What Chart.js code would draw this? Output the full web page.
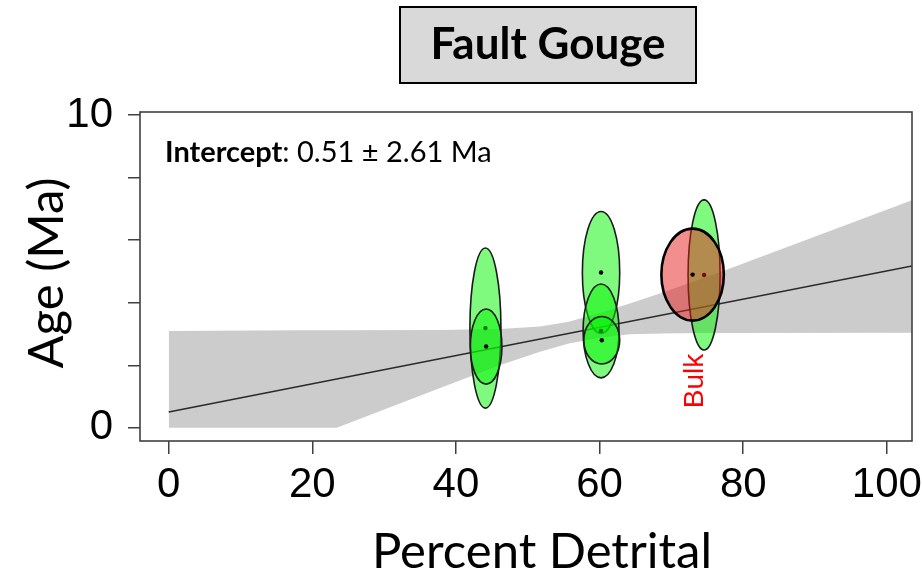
<!DOCTYPE html>
<html>
<head>
<meta charset="utf-8">
<script src="https://cdn.jsdelivr.net/npm/chart.js@4.4.1/dist/chart.umd.min.js"></script>
<style>
  html, body { margin: 0; padding: 0; background: #ffffff; }
  #wrap { width: 922px; height: 577px; }
</style>
</head>
<body>
<div id="wrap"><canvas id="c" width="922" height="577"></canvas></div>
<script>
// Axis extents and tick values
const xRange = [-4, 103.5];
const yRange = [-0.42, 10.1];
const xTickValues = [0, 20, 40, 60, 80, 100];
const yTickValues = [0, 2, 4, 6, 8, 10];
const yTickLabelled = [0, 10];

// Regression fit
const intercept = 0.51;
const interceptErr = 2.61;
const slope = 0.0451;

// Confidence envelope of the fit
const bandX     = [0,    18.2, 23.4, 37.7, 46.1, 51.7, 55.7, 60.0, 64.2, 68.8, 74.0, 77.4, 103.5];
const bandUpper = [3.10, 3.12, 3.12, 3.13, 3.16, 3.24, 3.39, 3.67, 3.98, 4.33, 4.75, 5.03, 7.28];
const bandLower = [0,    0,    0,    1.27, 2.00, 2.43, 2.70, 2.88, 2.99, 3.02, 3.03, 3.03, 3.04];

// Sample ages (Ma) with uncertainty ellipses: percent detrital vs age
const sampleDetrital = [44.1, 44.2, 60.2, 60.2, 60.3, 74.55, 72.95];
const sampleAge      = [3.19, 2.60, 4.97, 3.10, 2.80, 4.89, 4.90];
const sampleErrX     = [2.16, 2.20, 2.60, 2.50, 2.50, 2.23, 4.35];
const sampleErrY     = [2.56, 1.20, 1.95, 1.50, 0.76, 2.40, 1.47];
const sampleType     = ['fraction', 'fraction', 'fraction', 'fraction', 'fraction', 'fraction', 'bulk'];
const bulkLabel = 'Bulk';
const bulkLabelAge = 1.5;

const styles = {
  fraction: { fill: 'rgba(0,245,0,0.5)', stroke: '#1a1a1a', width: 1.6, dot: '#000000' },
  bulk:     { fill: 'rgba(232,30,30,0.5)', stroke: '#000000', width: 2.6, dot: '#000000' }
};

const fitLine = [
  { x: 0, y: intercept },
  { x: xRange[1], y: intercept + slope * xRange[1] }
];

const ellipsePlugin = {
  id: 'ellipses',
  afterDatasetsDraw(chart) {
    const { ctx, chartArea, scales } = chart;
    const xs = scales.x, ys = scales.y;
    ctx.save();
    ctx.beginPath();
    ctx.rect(chartArea.left, chartArea.top, chartArea.right - chartArea.left, chartArea.bottom - chartArea.top);
    ctx.clip();
    for (let i = 0; i < sampleAge.length; i++) {
      const st = styles[sampleType[i]];
      const cx = xs.getPixelForValue(sampleDetrital[i]);
      const cy = ys.getPixelForValue(sampleAge[i]);
      const rx = Math.abs(xs.getPixelForValue(sampleDetrital[i] + sampleErrX[i]) - cx);
      const ry = Math.abs(ys.getPixelForValue(sampleAge[i] + sampleErrY[i]) - cy);
      ctx.beginPath();
      ctx.ellipse(cx, cy, rx, ry, 0, 0, Math.PI * 2);
      ctx.fillStyle = st.fill;
      ctx.fill();
      ctx.lineWidth = st.width;
      ctx.strokeStyle = st.stroke;
      ctx.stroke();
      ctx.beginPath();
      ctx.arc(cx, cy, 2.2, 0, Math.PI * 2);
      ctx.fillStyle = st.dot;
      ctx.fill();
    }
    ctx.restore();

    // label under the bulk sample, reading upward
    const b = sampleType.indexOf('bulk');
    const bx = xs.getPixelForValue(sampleDetrital[b]) + 10;
    const by = ys.getPixelForValue(bulkLabelAge);
    ctx.save();
    ctx.translate(bx, by);
    ctx.rotate(-Math.PI / 2);
    ctx.font = '28px "Liberation Sans", Arial, sans-serif';
    ctx.fillStyle = '#ff0000';
    ctx.textAlign = 'center';
    ctx.textBaseline = 'alphabetic';
    ctx.fillText(bulkLabel, 0, 0);
    ctx.restore();
  }
};

const framePlugin = {
  id: 'frame',
  afterDraw(chart) {
    const { ctx, chartArea } = chart;
    ctx.save();
    // plot box
    ctx.strokeStyle = '#404040';
    ctx.lineWidth = 1.6;
    ctx.strokeRect(chartArea.left, chartArea.top, chartArea.right - chartArea.left, chartArea.bottom - chartArea.top);

    // title box
    ctx.fillStyle = '#d9d9d9';
    ctx.fillRect(400, 7, 296, 76);
    ctx.strokeStyle = '#000000';
    ctx.lineWidth = 2;
    ctx.strokeRect(400, 7, 296, 76);
    ctx.fillStyle = '#000000';
    ctx.font = 'bold 44px Lato, "Open Sans", sans-serif';
    ctx.textAlign = 'center';
    ctx.textBaseline = 'alphabetic';
    ctx.fillText('Fault Gouge', 548, 59);

    // intercept annotation
    ctx.textAlign = 'left';
    ctx.font = 'bold 29px Lato, sans-serif';
    const lead = 'Intercept';
    ctx.fillText(lead, 165, 162);
    const w = ctx.measureText(lead).width;
    ctx.font = '29px Lato, sans-serif';
    ctx.fillText(': ' + intercept.toFixed(2) + ' \u00b1 ' + interceptErr.toFixed(2) + ' Ma', 165 + w, 162);

    // axis titles
    ctx.font = '49px Lato, sans-serif';
    ctx.textAlign = 'center';
    ctx.fillText('Percent Detrital', 542, 568);
    ctx.save();
    ctx.translate(63, 273);
    ctx.rotate(-Math.PI / 2);
    ctx.fillText('Age (Ma)', 0, 0);
    ctx.restore();
    ctx.restore();
  }
};

new Chart(document.getElementById('c'), {
  type: 'scatter',
  data: {
    datasets: [
      {
        label: 'fit',
        data: fitLine,
        showLine: true,
        borderColor: '#2a2a2a',
        borderWidth: 1.5,
        pointRadius: 0,
        fill: false,
        order: 0
      },
      {
        label: 'upper',
        data: bandX.map((x, i) => ({ x, y: bandUpper[i] })),
        showLine: true,
        borderWidth: 0,
        borderColor: 'rgba(0,0,0,0)',
        backgroundColor: '#cccccc',
        pointRadius: 0,
        fill: '+1',
        tension: 0,
        order: 1
      },
      {
        label: 'lower',
        data: bandX.map((x, i) => ({ x, y: bandLower[i] })),
        showLine: true,
        borderWidth: 0,
        borderColor: 'rgba(0,0,0,0)',
        backgroundColor: '#cccccc',
        pointRadius: 0,
        fill: false,
        tension: 0,
        order: 2
      }
    ]
  },
  options: {
    responsive: false,
    animation: false,
    devicePixelRatio: 1,
    layout: { padding: { top: 112, right: 10, left: 0, bottom: 0 } },
    plugins: { legend: { display: false }, tooltip: { enabled: false } },
    scales: {
      x: {
        type: 'linear',
        min: xRange[0],
        max: xRange[1],
        afterBuildTicks: (s) => { s.ticks = xTickValues.map(v => ({ value: v })); },
        afterFit: (s) => { s.height = 136; s.paddingLeft = 0; s.paddingRight = 0; },
        border: { display: false },
        grid: { drawOnChartArea: false, drawTicks: true, tickLength: 13, color: '#404040', lineWidth: 1.5 },
        ticks: {
          color: '#000000',
          padding: 6,
          font: { family: '"Liberation Sans", Arial, sans-serif', size: 42 },
          maxRotation: 0,
          autoSkip: false,
          callback: (v) => String(v)
        }
      },
      y: {
        type: 'linear',
        min: yRange[0],
        max: yRange[1],
        afterBuildTicks: (s) => { s.ticks = yTickValues.map(v => ({ value: v })); },
        afterFit: (s) => { s.width = 140; s.paddingTop = 0; s.paddingBottom = 0; },
        border: { display: false },
        grid: { drawOnChartArea: false, drawTicks: true, tickLength: 12, color: '#404040', lineWidth: 1.5 },
        ticks: {
          color: '#000000',
          padding: 15,
          font: { family: '"Liberation Sans", Arial, sans-serif', size: 42 },
          autoSkip: false,
          callback: (v) => (yTickLabelled.includes(v) ? String(v) : '')
        }
      }
    }
  },
  plugins: [ellipsePlugin, framePlugin]
});
</script>
</body>
</html>
